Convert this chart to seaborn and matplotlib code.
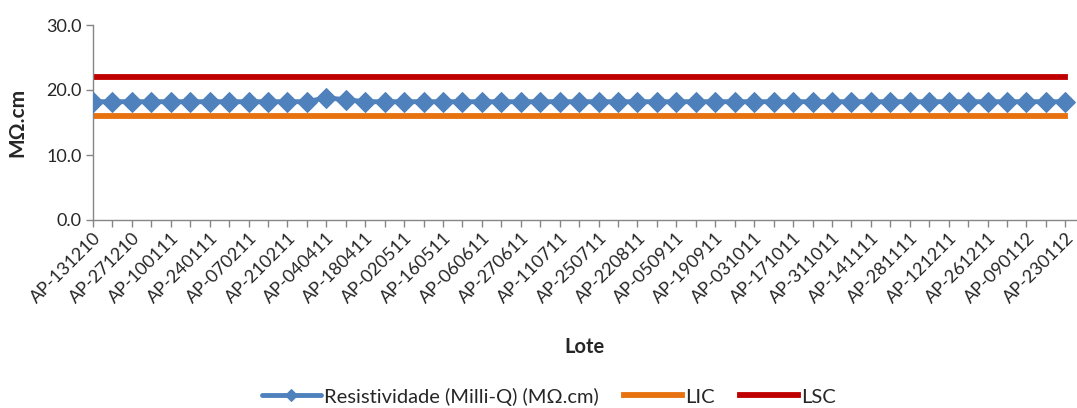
import matplotlib
matplotlib.use("Agg")
import matplotlib.pyplot as plt
import seaborn as sns
import pandas as pd
import numpy as np

# Lot labels shown on the axis (every second lot is labelled)
lotes_rotulados = [
    "AP-131210", "AP-271210", "AP-100111", "AP-240111", "AP-070211",
    "AP-210211", "AP-040411", "AP-180411", "AP-020511", "AP-160511",
    "AP-060611", "AP-270611", "AP-110711", "AP-250711", "AP-220811",
    "AP-050911", "AP-190911", "AP-031011", "AP-171011", "AP-311011",
    "AP-141111", "AP-281111", "AP-121211", "AP-261211", "AP-090112",
    "AP-230112",
]

# Resistivity per lot (MΩ.cm)
resistividade = [
    18.2, 18.2, 18.2, 18.2, 18.2, 18.2, 18.2, 18.2, 18.2, 18.2,
    18.2, 18.2, 18.8, 18.5, 18.2, 18.2, 18.2, 18.2, 18.2, 18.2,
    18.2, 18.2, 18.2, 18.2, 18.2, 18.2, 18.2, 18.2, 18.2, 18.2,
    18.2, 18.2, 18.2, 18.2, 18.2, 18.2, 18.2, 18.2, 18.2, 18.2,
    18.2, 18.2, 18.2, 18.2, 18.2, 18.2, 18.2, 18.2, 18.2, 18.2,
    18.2,
]
lic_valor = 16.0
lsc_valor = 22.0
y_ticks = [0.0, 10.0, 20.0, 30.0]

n = len(resistividade)
df = pd.DataFrame({
    "idx": np.arange(n),
    "Resistividade (Milli-Q) (MΩ.cm)": resistividade,
    "LIC": [lic_valor] * n,
    "LSC": [lsc_valor] * n,
})

sns.set_theme(style="white")
plt.rcParams["font.family"] = ["Lato", "DejaVu Sans"]

fig = plt.figure(figsize=(10.77, 4.08), dpi=100)
ax = fig.add_axes([93 / 1077, 1 - 220 / 408, (1076 - 93) / 1077, (220 - 25) / 408])

blue = "#4F81BD"
orange = "#E8720F"
red = "#C00000"

sns.lineplot(data=df, x="idx", y="Resistividade (Milli-Q) (MΩ.cm)", ax=ax,
             color=blue, linewidth=3.5, marker="D", markersize=10.5,
             markeredgecolor=blue, label="Resistividade (Milli-Q) (MΩ.cm)",
             zorder=3)
sns.lineplot(data=df, x="idx", y="LIC", ax=ax, color=orange, linewidth=4.2,
             label="LIC", zorder=2, solid_capstyle="projecting")
sns.lineplot(data=df, x="idx", y="LSC", ax=ax, color=red, linewidth=4.2,
             label="LSC", zorder=2, solid_capstyle="projecting")

ax.set_xlim(0, n - 1 + 0.55)
ax.set_ylim(0, 30)
ax.set_yticks(y_ticks)
ax.set_yticklabels([f"{v:.1f}" for v in y_ticks], fontsize=13, color="#262626")

xt = list(range(n))
xl = []
for i in xt:
    xl.append(lotes_rotulados[i // 2] if i % 2 == 0 else "")
ax.set_xticks(xt)
ax.set_xticklabels(xl, rotation=45, ha="right", rotation_mode="anchor",
                   fontsize=13, color="#262626")

for side in ["top", "right"]:
    ax.spines[side].set_visible(False)
for side in ["left", "bottom"]:
    ax.spines[side].set_color("#868686")
    ax.spines[side].set_linewidth(1.0)

ax.tick_params(axis="both", which="major", direction="out", length=5,
               width=1.0, color="#868686", bottom=True, left=True, pad=3)
ax.tick_params(axis="x", pad=2)

ax.set_xlabel("Lote", fontsize=14.5, fontweight="bold")
ax.set_ylabel("MΩ.cm", fontsize=15, fontweight="bold")
ax.xaxis.set_label_coords(0.5, -0.6)
ax.yaxis.set_label_coords(-0.067, 0.5)

leg = ax.legend(loc="center", bbox_to_anchor=(0.464, -0.905),
                ncol=3, frameon=False, fontsize=14.5, handlelength=2.9,
                columnspacing=1.25, handletextpad=0.15)
leg.legend_handles[0].set_markersize(6.5)
for t in leg.get_texts():
    t.set_color("#262626")

fig.savefig("out.png", dpi=100)
